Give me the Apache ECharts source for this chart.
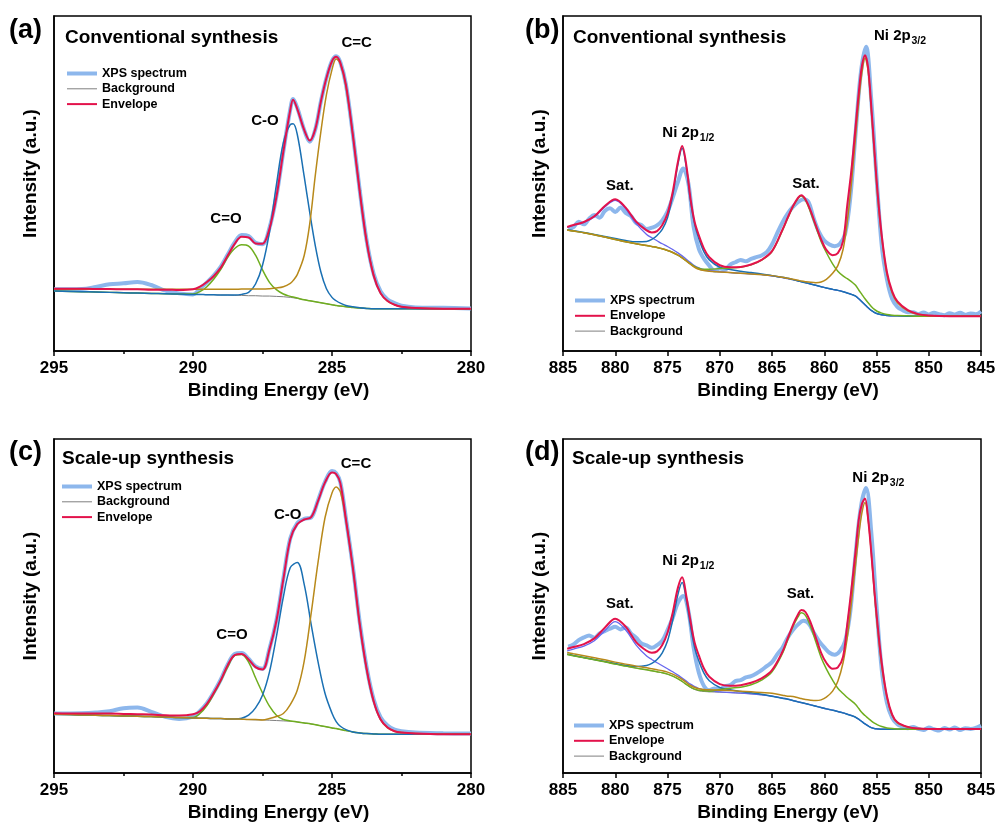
<!DOCTYPE html>
<html><head><meta charset="utf-8">
<script src="https://cdn.jsdelivr.net/npm/echarts@6/dist/echarts.min.js"></script>
<style>html,body{margin:0;padding:0;background:#fff}#c{width:997px;height:828px}</style>
</head><body><div id="c"></div>
<script>
// ---------- Panel (a): C 1s, conventional synthesis ----------
const aE = [295,294,293.5,293,292.5,292,291.5,291,290.5,290,289.75,289.5,289.25,289,288.75,288.5,288.25,288,287.75,287.5,287.25,287,286.75,286.5,286.4,286.25,286,285.8,285.6,285.4,285.2,285,284.85,284.7,284.5,284.25,284,283.75,283.5,283.25,283,282.75,282.5,282,281,280];
const aXps = [18.4,18.5,19.1,19.9,20.2,20.6,19.7,18.0,17.2,16.9, 18.6,20.5,22.6,25.2,28.8,32.4,34.6,34.3,32.3,31.9, 36.7,46.2,59.6,72.2,75.2,72.6,66.0,62.5,66.2,74.5, 81.5,86.6,88.0,86.2,79.6,64.7,47.8,32.8,23.0,17.8, 15.4,14.3,13.5,13.0,12.9,12.7];
const aBg = [17.9,17.7,17.6,17.5,17.4,17.3,17.2,17.1,17.0,16.9, 16.9,16.8,16.8,16.7,16.7,16.6,16.6,16.5,16.5,16.4, 16.4,16.3,16.2,16.0,15.9,15.7,15.3,15.0,14.7,14.4, 14.1,13.8,13.6,13.4,13.2,13.0,12.8,12.7,12.6,12.6, 12.6,12.6,12.6,12.6,12.6,12.6];
const aEnv = [18.6,18.6,18.5,18.5,18.4,18.4,18.3,18.3,18.2,18.4, 19.2,20.6,22.4,24.9,28.5,32.0,34.1,33.9,32.1,32.0, 36.5,46.0,59.5,72.0,75.0,72.3,66.0,62.8,66.3,74.5, 81.5,86.5,87.8,86.0,79.5,64.5,47.5,32.5,22.5,17.2, 14.9,13.8,13.2,12.8,12.6,12.6];
const aCeqO = [17.9,17.7,17.6,17.5,17.4,17.3,17.2,17.1,17.0,17.0, 17.7,19.2,21.5,24.4,28.0,30.6,31.7,31.3,28.6,24.2, 20.5,18.3,17.0,16.3,16.1,15.8,15.3,15.0,14.7,14.4, 14.1,13.8,13.6,13.4,13.2,13.0,12.8,12.7,12.6,12.6, 12.6,12.6,12.6,12.6,12.6,12.6];
const aCO = [17.9,17.7,17.6,17.5,17.4,17.3,17.2,17.1,17.0,16.9, 16.9,16.8,16.8,16.7,16.7,16.7,16.9,17.5,20.0,25.6, 35.5,49.6,62.2,67.6,67.8,64.7,52.1,41.3,31.4,23.6, 18.6,16.0,15.0,14.3,13.6,13.2,12.9,12.7,12.6,12.6, 12.6,12.6,12.6,12.6,12.6,12.6];
const aCC = [18.4,18.4,18.4,18.4,18.4,18.4,18.4,18.4,18.4,18.4, 18.4,18.4,18.4,18.4,18.4,18.4,18.5,18.5,18.5,18.5, 18.6,18.8,19.2,20.2,21.0,22.8,28.5,38.0,52.5,65.5, 76.5,84.0,87.2,85.8,79.0,64.5,47.5,32.5,22.5,17.2, 14.9,13.8,13.2,12.8,12.6,12.6];

// ---------- Panel (c): C 1s, scale-up synthesis ----------
const cE = [295,294,293.5,293,292.5,292,291.5,291,290.5,290,289.75,289.5,289.25,289,288.75,288.5,288.25,288,287.75,287.5,287.25,287,286.75,286.5,286.25,286,285.75,285.5,285.25,285,284.85,284.7,284.5,284.25,284,283.75,283.5,283.25,283,282.75,282.5,282,281,280];
const cXps = [17.8,17.9,18.1,18.5,19.4,19.6,18.3,16.8,16.2,16.9, 18.6,20.9,24.2,28.0,32.5,35.6,35.9,34.2,31.9,31.2, 37.2,45.7,58.3,70.3,74.8,76.1,76.5,81.7,87.2,90.4, 89.8,87.0,76.3,61.8,45.0,31.5,22.0,16.6,14.2,13.0, 12.5,12.1,11.9,11.8];
const cBg = [17.6,17.4,17.3,17.2,17.1,17.0,16.9,16.8,16.6,16.5, 16.4,16.4,16.3,16.3,16.2,16.2,16.1,16.0,15.9,15.9, 15.8,15.7,15.6,15.5,15.3,15.0,14.7,14.3,13.9,13.5, 13.3,13.0,12.7,12.3,12.0,11.8,11.7,11.6,11.6,11.6, 11.6,11.6,11.6,11.6];
const cEnv = [17.9,17.8,17.8,17.8,17.7,17.6,17.5,17.3,17.2,17.6, 18.5,20.7,24.0,27.8,32.3,35.3,35.6,34.0,31.7,31.0, 37.0,45.5,58.0,70.0,74.5,75.9,76.6,81.5,87.0,90.0, 89.5,86.8,76.0,61.5,44.5,31.0,21.5,16.0,13.6,12.5, 12.1,11.8,11.6,11.6];
const cCeqO = [17.6,17.4,17.3,17.2,17.1,17.0,16.9,16.8,16.6,16.6, 17.8,20.2,23.7,27.6,31.8,35.2,35.5,33.2,28.5,24.0, 20.0,17.3,16.0,15.6,15.3,15.0,14.7,14.3,13.9,13.5, 13.3,13.0,12.7,12.3,12.0,11.8,11.7,11.6,11.6,11.6, 11.6,11.6,11.6,11.6];
const cCO = [17.6,17.4,17.3,17.2,17.1,17.0,16.9,16.8,16.6,16.5, 16.4,16.4,16.3,16.3,16.2,16.2,16.4,17.3,19.5,23.3, 30.2,40.8,52.7,61.5,63.0,56.5,44.5,33.2,23.8,17.9, 15.4,14.0,13.0,12.3,12.0,11.8,11.7,11.6,11.6,11.6, 11.6,11.6,11.6,11.6];
const cCC = [17.6,17.4,17.3,17.2,17.1,17.0,16.9,16.8,16.6,16.5, 16.4,16.4,16.3,16.3,16.2,16.2,16.1,16.0,16.0,15.9, 16.3,16.9,17.8,20.5,24.8,33.5,47.8,63.2,76.5,83.8, 85.6,84.2,75.8,61.3,44.3,30.8,21.3,15.9,13.5,12.5, 12.1,11.8,11.6,11.6];

// ---------- Ni 2p panels: fitted-curve energies and raw-spectrum energies ----------
const nE = [884.6,884,883,882,881,880,879,878,877,876.5, 876,875.5,875,874.5,874,873.6,873.2,872.8,872.4,872, 871.5,871,870,869,868,867,866,865,864,863.5, 863,862.5,862.2,861.8,861.3,860.8,860.3,859.8,859.2,858.7, 858.2,857.8,857.4,857,856.7,856.4,856.1,855.8,855.5,855.2, 854.9,854.5,854,853.5,853,852,851,850,848,846, 845];
const xE = [884.5,884,883.5,883,882.5,882,881.5,881,880.5,880, 879.5,879,878.5,878,877.5,877,876.5,876,875.5,875, 874.5,874,873.5,873,872.5,872,871.5,871,870.5,870, 869.5,869,868.5,868,867.5,867,866.5,866,865.5,865, 864.5,864,863.5,863,862.5,862,861.5,861,860.5,860, 859.5,859,858.5,858,857.5,857,856.5,856,855.5,855, 854.5,854,853.5,853,852.5,852,851.5,851,850.5,850, 849.5,849,848.5,848,847.5,847,846.5,846,845.5,845];

// ---------- Panel (b): Ni 2p, conventional synthesis ----------
const bXps = [36.5,37.0,38.6,37.8,39.5,40.6,39.8,41.8,42.6,41.5, 42.8,41.2,40.3,38.2,37.6,36.4,36.8,37.5,39.0,41.6, 45.8,50.5,54.5,50.0,37.0,30.5,27.5,25.5,24.0,24.6, 24.3,25.8,26.5,27.2,26.8,27.5,28.0,28.5,29.5,31.8, 35.2,38.4,41.0,43.0,44.5,45.3,44.4,39.5,35.5,33.0, 31.8,31.3,32.0,35.0,46.0,65.0,83.0,90.8,75.0,52.0, 31.5,21.4,15.5,13.2,12.2,11.6,11.6,11.0,11.5,10.9, 11.4,11.0,10.7,11.3,10.9,11.4,10.8,11.2,11.0,11.8];
const bEnv = [37.0,37.6,38.5,40.2,43.3,45.3,42.8,38.6,36.0,35.4, 35.8,37.6,41.0,47.5,56.5,61.2,55.5,45.5,38.5,34.5, 30.5,28.0,25.6,25.0,25.1,25.8,27.2,29.8,36.2,39.8, 43.2,45.8,46.5,45.3,41.8,37.5,33.3,30.2,28.6,29.2, 32.8,43.5,54.0,67.0,77.0,85.0,88.3,84.5,73.0,60.0, 47.5,34.5,23.5,17.8,14.8,12.2,11.0,10.6,10.4,10.4, 10.4];
const bBg = [36.1,35.8,35.3,34.7,34.0,33.3,32.6,32.0,31.5,31.2, 30.9,30.5,30.0,29.4,28.6,27.8,26.9,25.9,25.0,24.4, 24.0,23.8,23.6,23.4,23.2,23.0,22.8,22.4,21.9,21.6, 21.3,20.9,20.7,20.4,20.0,19.6,19.2,18.8,18.4,18.1, 17.7,17.3,16.9,16.4,15.6,14.7,13.8,12.9,12.1,11.5, 11.1,10.8,10.6,10.5,10.5,10.4,10.4,10.4,10.4,10.4, 10.4];
const bSatA = [36.9,37.5,38.4,40.0,43.0,45.0,42.4,38.0,34.8,33.8, 32.9,32.0,31.2,30.3,29.3,28.4,27.4,26.4,25.4,24.8, 24.3,24.0,23.7,23.4,23.2,23.0,22.8,22.4,21.9,21.6, 21.3,20.9,20.7,20.4,20.0,19.6,19.2,18.8,18.4,18.1, 17.7,17.3,16.9,16.4,15.6,14.7,13.8,12.9,12.1,11.5, 11.1,10.8,10.6,10.5,10.5,10.4,10.4,10.4,10.4,10.4, 10.4];
const bP12 = [36.2,35.9,35.4,34.8,34.2,33.6,33.0,32.6,32.7,33.3, 34.5,36.3,39.8,46.5,55.8,60.5,54.8,44.8,37.8,33.5, 29.5,27.2,25.0,24.3,23.8,23.4,23.0,22.5,22.0,21.7, 21.3,20.9,20.7,20.4,20.0,19.6,19.2,18.8,18.4,18.1, 17.7,17.3,16.9,16.4,15.6,14.7,13.8,12.9,12.1,11.5, 11.1,10.8,10.6,10.5,10.5,10.4,10.4,10.4,10.4,10.4, 10.4];
const bSatB = [36.1,35.8,35.3,34.7,34.0,33.3,32.6,32.0,31.5,31.2, 30.9,30.5,30.0,29.4,28.6,27.8,26.9,26.0,25.2,24.7, 24.4,24.4,24.6,24.8,25.0,25.7,27.1,29.7,36.0,39.6, 43.0,45.6,46.3,45.0,41.3,37.0,32.7,29.4,26.0,23.8, 22.4,21.6,20.7,19.6,18.2,16.9,15.6,14.4,13.3,12.4, 11.8,11.3,10.9,10.7,10.6,10.5,10.4,10.4,10.4,10.4, 10.4];
const bP32 = [36.1,35.8,35.3,34.7,34.0,33.3,32.6,32.0,31.5,31.2, 30.9,30.5,30.0,29.4,28.6,27.8,26.9,25.9,25.0,24.4, 24.0,23.8,23.6,23.4,23.2,23.0,22.8,22.5,22.0,21.7, 21.4,21.1,20.9,20.7,20.5,20.4,20.6,21.4,23.2,25.5, 30.3,38.5,50.0,64.0,74.5,83.0,87.4,83.5,72.0,59.0, 46.5,33.8,22.8,17.3,14.4,12.0,10.9,10.5,10.4,10.4, 10.4];

// ---------- Panel (d): Ni 2p, scale-up synthesis ----------
const dXps = [37.8,38.5,39.8,40.6,41.2,40.5,41.8,42.5,43.2,43.8, 43.0,43.6,41.8,40.5,38.8,38.2,37.5,38.3,39.6,42.8, 46.5,51.0,53.0,48.5,37.5,30.0,26.0,24.8,25.3,25.0, 26.0,26.3,27.5,27.8,28.6,29.0,29.8,30.8,32.0,33.2, 35.5,37.5,40.5,42.8,44.5,45.6,44.8,42.0,39.5,37.6, 36.0,35.4,36.5,39.5,48.5,65.5,79.5,85.3,72.0,50.0, 31.0,21.0,16.5,14.6,13.9,13.4,13.8,13.2,12.9,13.6, 13.1,12.7,13.5,13.0,13.6,12.9,13.4,13.2,13.5,14.2];
const dEnv = [37.2,37.7,38.6,40.3,43.5,46.2,43.8,39.2,36.6,36.0, 36.4,38.3,42.0,48.0,55.5,58.6,53.0,45.5,39.0,35.2, 31.2,28.8,26.6,26.1,26.3,27.0,28.3,30.8,36.3,40.3, 44.3,47.5,48.8,48.2,45.0,40.5,36.0,33.0,31.2,31.6, 34.8,44.5,55.0,66.5,75.8,80.5,82.2,76.0,66.0,54.5, 44.5,33.0,23.0,17.5,15.2,13.8,13.3,13.2,13.2,13.2, 13.2];
const dBg = [35.5,35.1,34.5,33.9,33.3,32.6,32.0,31.4,30.9,30.6, 30.3,30.0,29.6,29.0,28.2,27.4,26.5,25.6,25.0,24.6, 24.4,24.3,24.2,24.1,23.9,23.7,23.4,23.0,22.4,22.1, 21.7,21.3,21.1,20.8,20.4,20.0,19.6,19.2,18.8,18.4, 18.0,17.6,17.2,16.7,16.1,15.4,14.7,14.1,13.6,13.3, 13.2,13.1,13.1,13.1,13.1,13.1,13.1,13.1,13.1,13.1, 13.1];
const dSatA = [36.6,37.1,38.0,39.6,42.6,45.3,42.8,38.3,35.0,34.0, 33.0,32.1,31.2,30.3,29.3,28.4,27.5,26.6,25.9,25.3, 24.9,24.6,24.3,24.1,23.9,23.7,23.4,23.0,22.4,22.1, 21.7,21.3,21.1,20.8,20.4,20.0,19.6,19.2,18.8,18.4, 18.0,17.6,17.2,16.7,16.1,15.4,14.7,14.1,13.6,13.3, 13.2,13.1,13.1,13.1,13.1,13.1,13.1,13.1,13.1,13.1, 13.1];
const dP12 = [35.6,35.2,34.6,34.0,33.4,32.8,32.2,31.9,32.2,32.8, 34.0,36.0,39.5,45.8,53.5,57.0,51.8,44.0,37.5,33.5, 29.8,27.6,25.6,24.9,24.4,24.0,23.6,23.0,22.4,22.1, 21.7,21.3,21.1,20.8,20.4,20.0,19.6,19.2,18.8,18.4, 18.0,17.6,17.2,16.7,16.1,15.4,14.7,14.1,13.6,13.3, 13.2,13.1,13.1,13.1,13.1,13.1,13.1,13.1,13.1,13.1, 13.1];
const dSatB = [35.5,35.1,34.5,33.9,33.3,32.6,32.0,31.4,30.9,30.6, 30.3,30.0,29.6,29.0,28.2,27.4,26.5,25.7,25.1,24.8, 24.6,24.5,25.0,25.4,25.7,26.4,27.8,30.3,35.8,39.8, 43.8,46.8,48.0,47.2,43.8,39.2,34.6,31.2,27.8,25.4, 23.8,22.6,21.6,20.5,19.3,18.1,17.2,16.4,15.6,14.9, 14.4,13.9,13.5,13.3,13.2,13.1,13.1,13.1,13.1,13.1, 13.1];
const dP32 = [36.1,35.7,35.1,34.5,33.9,33.2,32.6,32.0,31.5,31.2, 30.9,30.6,30.2,29.6,28.8,28.0,27.1,26.2,25.6,25.2, 25.0,24.9,24.8,24.7,24.5,24.3,24.1,23.9,23.3,23.0, 22.9,22.5,22.3,22.0,21.8,21.7,21.9,22.7,24.5,27.5, 33.0,40.5,51.0,62.5,71.0,77.8,81.0,76.0,66.0,54.0, 43.5,32.0,22.6,17.2,15.0,13.7,13.3,13.2,13.1,13.1, 13.1];

// ---------- tick / axis settings ----------
const cRange = [280, 295];
const niRange = [845, 885];
const tickStep = 5;

// ---------- styling ----------
const FONT = '"Liberation Sans", Arial, Helvetica, sans-serif';
const COL = {
  xps: '#8db7ec', env: '#e3124b', bg: '#7f7f7f',
  green: '#6fae1f', blue: '#1a70b3', gold: '#b8891a', violet: '#6767ee'
};

const chart = echarts.init(document.getElementById('c'), null, {renderer: 'canvas'});

function line(name, gi, E, Y, color, width) {
  return {
    type: 'line', name: name, xAxisIndex: gi, yAxisIndex: gi,
    data: E.map((e, i) => [e, Y[i]]),
    symbol: 'none', showSymbol: false, smooth: 0.35,
    lineStyle: {color: color, width: width},
    itemStyle: {color: color},
    emphasis: {disabled: true}, silent: true, animation: false
  };
}

const grids = [
  {left: 54, top: 16, width: 417, height: 335},
  {left: 563, top: 16, width: 418, height: 335},
  {left: 54, top: 439, width: 417, height: 334},
  {left: 563, top: 439, width: 418, height: 334}
].map(g => Object.assign({show: true, borderColor: '#000', borderWidth: 1.5, backgroundColor: 'transparent', containLabel: false, outerBoundsMode: 'none'}, g));

function xAxis(gi, range, minor) {
  return {
    gridIndex: gi, type: 'value', min: range[0], max: range[1], interval: tickStep, inverse: true,
    name: 'Binding Energy (eV)', nameLocation: 'middle', nameGap: 30, nameMoveOverlap: false,
    nameTextStyle: {fontFamily: FONT, fontWeight: 'bold', fontSize: 19, color: '#000', padding: [0, 0, 0, 32]},
    axisLine: {show: true, onZero: false, lineStyle: {color: '#000', width: 1.5}},
    axisTick: {show: true, inside: false, length: 5, lineStyle: {color: '#000', width: 1.5}},
    minorTick: {show: minor, splitNumber: 2, length: 3, lineStyle: {color: '#000', width: 1.5}},
    axisLabel: {fontFamily: FONT, fontWeight: 'bold', fontSize: 17, color: '#000', margin: 9, showMinLabel: true, showMaxLabel: true},
    splitLine: {show: false}, minorSplitLine: {show: false}
  };
}
function yAxis(gi) {
  return {
    gridIndex: gi, type: 'value', min: 0, max: 100,
    name: 'Intensity (a.u.)', nameLocation: 'middle', nameGap: 14, nameRotate: 90, nameMoveOverlap: false,
    nameTextStyle: {fontFamily: FONT, fontWeight: 'bold', fontSize: 19, color: '#000', padding: [0, 0, 0, 20]},
    axisLine: {show: true, onZero: false, lineStyle: {color: '#000', width: 1.5}},
    axisTick: {show: false}, axisLabel: {show: false}, splitLine: {show: false}
  };
}

function legendItem(name, w) {
  return {name: name, icon: 'path://M0 0H30V' + w + 'H0Z'};
}
function legend(left, top, items) {
  return {
    left: left, top: top, orient: 'vertical', padding: 0,
    itemWidth: 30, itemHeight: 14, itemGap: 2.3, selectedMode: false,
    itemStyle: {borderWidth: 0},
    textStyle: {fontFamily: FONT, fontWeight: 'bold', fontSize: 12.5, color: '#000'},
    data: items
  };
}
const L_XPS = legendItem('XPS spectrum', 4), L_BG = legendItem('Background', 1), L_ENV = legendItem('Envelope', 2);

const series = [
  // (a)
  line('XPS spectrum', 0, aE, aXps, COL.xps, 4),
  line('Background', 0, aE, aBg, COL.bg, 1),
  line('C=O', 0, aE, aCeqO, COL.green, 1.5),
  line('C-O', 0, aE, aCO, COL.blue, 1.5),
  line('C=C', 0, aE, aCC, COL.gold, 1.5),
  line('Envelope', 0, aE, aEnv, COL.env, 2),
  // (b)
  line('XPS spectrum', 1, xE, bXps, COL.xps, 4),
  line('Background', 1, nE, bBg, COL.bg, 1),
  line('Sat. 880', 1, nE, bSatA, COL.violet, 1.3),
  line('Ni 2p1/2', 1, nE, bP12, COL.blue, 1.5),
  line('Sat. 862', 1, nE, bSatB, COL.green, 1.5),
  line('Ni 2p3/2', 1, nE, bP32, COL.gold, 1.5),
  line('Envelope', 1, nE, bEnv, COL.env, 2),
  // (c)
  line('XPS spectrum', 2, cE, cXps, COL.xps, 4),
  line('Background', 2, cE, cBg, COL.bg, 1),
  line('C=O', 2, cE, cCeqO, COL.green, 1.5),
  line('C-O', 2, cE, cCO, COL.blue, 1.5),
  line('C=C', 2, cE, cCC, COL.gold, 1.5),
  line('Envelope', 2, cE, cEnv, COL.env, 2),
  // (d)
  line('XPS spectrum', 3, xE, dXps, COL.xps, 4),
  line('Background', 3, nE, dBg, COL.bg, 1),
  line('Sat. 880', 3, nE, dSatA, COL.violet, 1.3),
  line('Ni 2p1/2', 3, nE, dP12, COL.blue, 1.5),
  line('Sat. 862', 3, nE, dSatB, COL.green, 1.5),
  line('Ni 2p3/2', 3, nE, dP32, COL.gold, 1.5),
  line('Envelope', 3, nE, dEnv, COL.env, 2)
];

function txt(text, x, y, size, align) {
  return {type: 'text', x: x, y: y, silent: true,
    style: {text: text, fill: '#000', fontFamily: FONT, fontWeight: 'bold', fontSize: size,
      align: align || 'left', verticalAlign: 'middle'}};
}
const labels = [
  txt('(a)', 9, 31, 27), txt('(b)', 525, 31, 27), txt('(c)', 9, 453, 27), txt('(d)', 525, 453, 27),
  txt('Conventional synthesis', 65, 38, 19), txt('Conventional synthesis', 573, 38, 19),
  txt('Scale-up synthesis', 62, 458.5, 19), txt('Scale-up synthesis', 572, 458.5, 19),
  // (a)
  txt('C=C', 356.7, 42.5, 15, 'center'), txt('C-O', 265, 121.3, 15, 'center'), txt('C=O', 226, 219, 15, 'center'),
  // (c)
  txt('C=C', 356, 463.8, 15, 'center'), txt('C-O', 287.7, 514.7, 15, 'center'), txt('C=O', 232, 635, 15, 'center'),
  // (b)
  txt('Ni 2p', 874, 36, 15), txt('3/2', 911.5, 41.5, 10.5),
  txt('Ni 2p', 662.3, 133, 15), txt('1/2', 699.8, 138.5, 10.5),
  txt('Sat.', 619.8, 185.8, 15, 'center'), txt('Sat.', 806, 183.5, 15, 'center'),
  // (d)
  txt('Ni 2p', 852.3, 477.5, 15), txt('3/2', 889.8, 483, 10.5),
  txt('Ni 2p', 662.3, 560.8, 15), txt('1/2', 699.8, 566.3, 10.5),
  txt('Sat.', 619.8, 604.2, 15, 'center'), txt('Sat.', 800.5, 594.2, 15, 'center')
];

chart.setOption({
  animation: false,
  backgroundColor: '#fff',
  textStyle: {fontFamily: FONT},
  grid: grids,
  xAxis: [xAxis(0, cRange, true), xAxis(1, niRange, false), xAxis(2, cRange, true), xAxis(3, niRange, false)],
  yAxis: [yAxis(0), yAxis(1), yAxis(2), yAxis(3)],
  legend: [
    legend(67, 67, [L_XPS, L_BG, L_ENV]),
    legend(575, 294, [L_XPS, L_ENV, L_BG]),
    legend(62, 480, [L_XPS, L_BG, L_ENV]),
    legend(574, 719, [L_XPS, L_ENV, L_BG])
  ],
  series: series,
  graphic: labels
});
</script></body></html>
